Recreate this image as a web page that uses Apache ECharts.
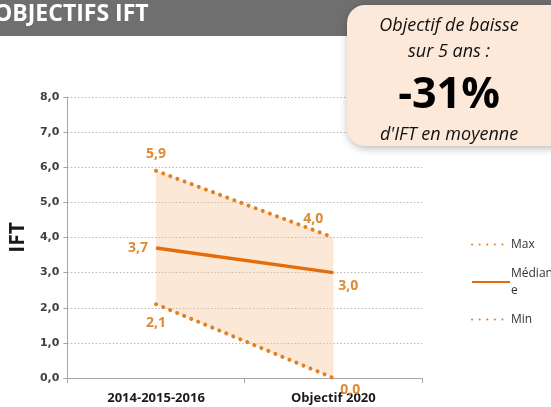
<!DOCTYPE html>
<html>
<head>
<meta charset="utf-8">
<script src="https://cdn.jsdelivr.net/npm/echarts@6/dist/echarts.min.js"></script>
<style>
  html, body { margin: 0; padding: 0; background: #fff; }
  #chart { width: 551px; height: 407px; }
</style>
</head>
<body>
<div id="chart"></div>
<script>
const categories = ['2014-2015-2016', 'Objectif 2020']
const maxValues = [5.9, 4.0]
const medianValues = [3.7, 3.0]
const minValues = [2.1, 0.0]
const yTicks = { min: 0, max: 8, interval: 1 }

const orange = '#e46c0a'
const dotOrange = '#e38024'
const labelOrange = '#df8a30'
const fmt = v => Number(v).toFixed(1).replace('.', ',')

const chart = echarts.init(document.getElementById('chart'))

// band between min and max, built from the two arrays
const bandValues = maxValues.map((v, i) => +(v - minValues[i]).toFixed(2))

const labelStyle = {
  show: true,
  color: labelOrange,
  fontWeight: 'bold',
  fontSize: 14,
  fontFamily: 'Open Sans',
  formatter: p => fmt(p.value)
}
const dotted = { color: dotOrange, width: 4, type: [0.1, 7.5], cap: 'round' }

chart.setOption({
  animation: false,
  textStyle: { fontFamily: 'Open Sans' },
  grid: { left: 62, right: 129, top: 97, bottom: 29 },
  legend: {
    orient: 'vertical',
    left: 466,
    top: 231,
    itemWidth: 38,
    itemHeight: 10,
    itemGap: 12,
    data: ['Max', 'Médiane', 'Min'],
    itemStyle: { opacity: 0 },
    formatter: n => n === 'Médiane' ? 'Médian\ne' : n,
    textStyle: { fontSize: 12, color: '#333', padding: [0, 0, 0, -4], lineHeight: 17 }
  },
  xAxis: {
    type: 'category',
    data: categories,
    boundaryGap: true,
    axisLine: { lineStyle: { color: '#a6a6a6' } },
    axisTick: { show: true, alignWithLabel: false, lineStyle: { color: '#a6a6a6' } },
    axisLabel: { color: '#1a1a1a', fontWeight: 'bold', fontSize: 13, margin: 14 }
  },
  yAxis: {
    type: 'value',
    min: yTicks.min,
    max: yTicks.max,
    interval: yTicks.interval,
    name: 'IFT',
    nameLocation: 'middle',
    nameGap: 38,
    nameRotate: 90,
    nameTextStyle: { fontSize: 21, fontWeight: 'bold', color: '#1a1a1a' },
    axisLine: { show: true, lineStyle: { color: '#a6a6a6' } },
    axisTick: { show: true, length: 4, lineStyle: { color: '#a6a6a6' } },
    axisLabel: { formatter: v => fmt(v), color: '#404040', fontWeight: 'bold', fontSize: 11, fontFamily: 'DejaVu Sans', margin: 8 },
    splitLine: { lineStyle: { color: '#b8b8b8', type: [1.5, 2] } }
  },
  series: [
    {
      name: 'base',
      type: 'line',
      stack: 'band',
      data: minValues,
      symbol: 'none',
      lineStyle: { opacity: 0 },
      silent: true
    },
    {
      name: 'band',
      type: 'line',
      stack: 'band',
      data: bandValues,
      symbol: 'none',
      lineStyle: { opacity: 0 },
      areaStyle: { color: 'rgba(246, 190, 140, 0.5)' },
      silent: true
    },
    {
      name: 'Max',
      type: 'line',
      data: maxValues.map((v, i) => ({
        value: v,
        label: i === 0 ? { position: 'top', distance: 10 } : { position: 'top', offset: [-20, -6] }
      })),
      symbol: 'circle',
      symbolSize: 0,
      lineStyle: dotted,
      itemStyle: { color: dotOrange },
      label: labelStyle,
      z: 3
    },
    {
      name: 'Médiane',
      type: 'line',
      data: medianValues.map((v, i) => ({
        value: v,
        label: i === 0 ? { position: 'left', distance: 8 } : { position: 'right', offset: [0, 13] }
      })),
      symbol: 'circle',
      symbolSize: 0,
      lineStyle: { color: orange, width: 3.5 },
      itemStyle: { color: orange },
      label: labelStyle,
      z: 3
    },
    {
      name: 'Min',
      type: 'line',
      data: minValues.map((v, i) => ({
        value: v,
        label: i === 0 ? { position: 'bottom', distance: 12 } : { position: 'right', offset: [2, 12] }
      })),
      symbol: 'circle',
      symbolSize: 0,
      lineStyle: dotted,
      itemStyle: { color: dotOrange },
      label: labelStyle,
      z: 3
    }
  ],
  graphic: [
    {
      type: 'rect',
      left: 0, top: 0,
      shape: { width: 551, height: 36 },
      style: { fill: '#6f6f6f' },
      z: 10
    },
    {
      type: 'text',
      left: -6, top: 3,
      style: { text: 'OBJECTIFS IFT', fill: '#ffffff', font: 'bold 23px "Open Sans"' },
      z: 11
    },
    {
      type: 'rect',
      left: 347, top: 5,
      shape: { width: 220, height: 141, r: 18 },
      style: { fill: '#fde9d9', shadowBlur: 8, shadowColor: 'rgba(0,0,0,0.3)', shadowOffsetX: 1, shadowOffsetY: 2 },
      z: 12
    },
    {
      type: 'text', x: 449, y: 26,
      style: { text: 'Objectif de baisse', fill: '#111', font: 'italic 18px "Open Sans"', align: 'center', verticalAlign: 'middle' },
      z: 13
    },
    {
      type: 'text', x: 449, y: 52,
      style: { text: 'sur 5 ans :', fill: '#111', font: 'italic 18px "Open Sans"', align: 'center', verticalAlign: 'middle' },
      z: 13
    },
    {
      type: 'text', x: 449, y: 96,
      style: { text: '-31%', fill: '#000', font: 'bold 43px "Open Sans"', align: 'center', verticalAlign: 'middle' },
      z: 13
    },
    {
      type: 'text', x: 449, y: 135,
      style: { text: "d'IFT en moyenne", fill: '#111', font: 'italic 18px "Open Sans"', align: 'center', verticalAlign: 'middle' },
      z: 13
    }
  ]
})
</script>
</body>
</html>
